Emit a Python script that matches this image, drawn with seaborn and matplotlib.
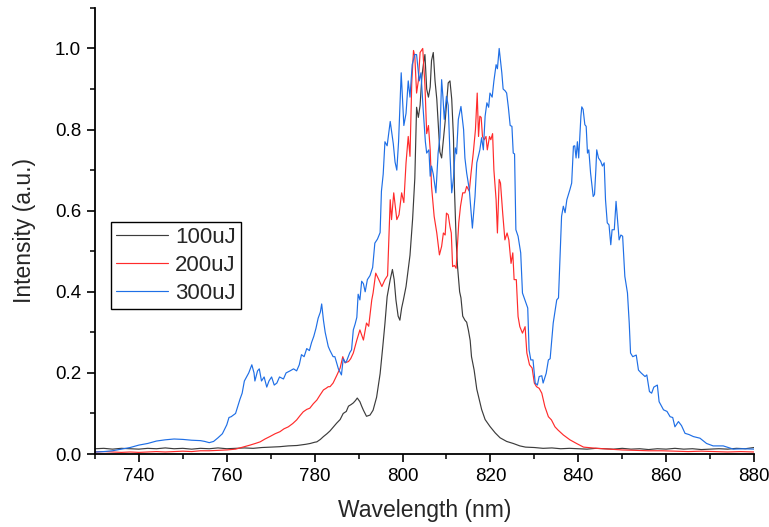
import numpy as np
import pandas as pd
import matplotlib
matplotlib.use("Agg")
import matplotlib.pyplot as plt
from matplotlib.ticker import MultipleLocator, FormatStrFormatter
import seaborn as sns

# ---------------- data ----------------
black_wl = [730, 732, 734, 736, 738, 740, 742, 744, 746, 748, 750, 752, 754, 756, 758, 760,
            762, 764, 766, 768, 770, 772, 774, 776, 778, 779, 780, 780.5, 781.3, 782, 782.8,
            783.5, 784.2, 785, 785.8, 786.5, 787.2, 787.7, 788.3, 788.8, 789.3, 789.7, 790.3,
            790.7, 791.1, 791.8, 792.6, 793.3, 794.1, 794.9, 795.5, 796, 796.5, 797.2, 797.7,
            798.1, 798.5, 799, 799.4, 799.8, 800.2, 800.8, 801.3, 801.7, 802.3, 802.8, 803.2,
            803.6, 804, 804.4, 804.8, 805.1, 805.5, 805.9, 806.3, 806.6, 807, 807.4, 807.8,
            808.1, 808.5, 808.9, 809.3, 809.7, 810, 810.4, 810.8, 811.2, 811.6, 811.8, 812.2,
            812.5, 813, 813.3, 813.7, 814.2, 814.6, 815, 815.4, 815.7, 816.3, 816.9, 817.5,
            818, 818.8, 819.9, 821.1, 822.2, 823.7, 825.2, 826.7, 828, 830, 832, 834, 836,
            838, 840, 842, 844, 846, 848, 850, 852, 854, 856, 858, 860, 862, 864, 866, 868,
            870, 872, 874, 876, 878, 880]
black_int = [0.013, 0.014, 0.012, 0.014, 0.013, 0.012, 0.014, 0.013, 0.015, 0.013, 0.014, 0.012,
             0.014, 0.013, 0.015, 0.013, 0.014, 0.015, 0.014, 0.016, 0.017, 0.018, 0.020, 0.021,
             0.024, 0.026, 0.029, 0.030, 0.036, 0.043, 0.050, 0.057, 0.066, 0.076, 0.085, 0.100,
             0.105, 0.118, 0.122, 0.126, 0.132, 0.138, 0.129, 0.118, 0.108, 0.093, 0.096, 0.108,
             0.140, 0.198, 0.264, 0.322, 0.388, 0.430, 0.455, 0.430, 0.380, 0.340, 0.330, 0.360,
             0.380, 0.413, 0.455, 0.490, 0.580, 0.680, 0.855, 0.830, 0.860, 0.930, 0.965, 0.985,
             0.900, 0.880, 0.905, 0.970, 0.990, 0.920, 0.875, 0.820, 0.745, 0.730, 0.775, 0.820,
             0.860, 0.915, 0.920, 0.875, 0.780, 0.660, 0.530, 0.465, 0.400, 0.385, 0.340, 0.330,
             0.325, 0.305, 0.280, 0.240, 0.207, 0.160, 0.133, 0.110, 0.085, 0.068, 0.052, 0.040,
             0.031, 0.026, 0.020, 0.017, 0.016, 0.014, 0.015, 0.013, 0.014, 0.013, 0.012, 0.014,
             0.013, 0.012, 0.014, 0.012, 0.013, 0.011, 0.013, 0.012, 0.014, 0.012, 0.013, 0.011,
             0.012, 0.013, 0.012, 0.014, 0.013, 0.016]

red_wl = [730, 732, 734, 736, 738, 740, 742, 744, 746, 748, 750, 752, 754, 756, 758, 760, 762,
          764, 765.3, 766.5, 767.6, 768.7, 769.8, 771, 772.1, 773, 774, 775, 775.9, 776.7,
          777.4, 778.2, 778.9, 779.7, 780.5, 781.2, 782, 782.6, 783.1, 783.5, 784.2, 785,
          785.8, 786.4, 786.9, 787.7, 788.2, 788.8, 789.6, 790.3, 791.1, 791.8, 792.3, 793,
          793.3, 793.9, 794.6, 795.3, 796, 796.6, 797.2, 797.5, 798, 798.7, 799.2, 799.8,
          800.3, 800.8, 801.3, 801.7, 802.1, 802.5, 802.8, 803.2, 803.6, 804, 804.6, 805.1,
          805.5, 805.9, 806.3, 806.6, 807.2, 807.8, 808.4, 808.9, 809.3, 809.7, 810, 810.4,
          810.8, 811.1, 811.4, 811.8, 812.2, 812.5, 812.8, 813.2, 813.7, 814.2, 814.6, 815.2,
          815.6, 816.1, 816.6, 817, 817.3, 817.6, 817.9, 818.2, 818.6, 819, 819.3, 819.8,
          820.1, 820.5, 820.8, 821.3, 821.6, 822, 822.3, 822.8, 823.3, 823.8, 824.2, 824.7,
          825.1, 825.4, 825.9, 826.3, 826.7, 827.3, 827.9, 828.3, 828.9, 829.5, 830, 830.5,
          831.1, 831.7, 832.4, 833.2, 833.9, 834.7, 835.4, 836.6, 838.1, 839.6, 841.2, 844.2,
          847.2, 850, 853, 856, 859, 862, 865, 868, 871, 874, 877, 880]
red_int = [0.005, 0.006, 0.005, 0.004, 0.005, 0.004, 0.005, 0.006, 0.005, 0.006, 0.007, 0.006,
           0.008, 0.008, 0.009, 0.010, 0.012, 0.018, 0.022, 0.026, 0.030, 0.037, 0.043, 0.050,
           0.055, 0.062, 0.067, 0.075, 0.084, 0.095, 0.104, 0.110, 0.113, 0.124, 0.133, 0.145,
           0.158, 0.162, 0.166, 0.166, 0.175, 0.193, 0.212, 0.240, 0.225, 0.228, 0.235, 0.249,
           0.281, 0.306, 0.281, 0.323, 0.315, 0.380, 0.397, 0.446, 0.430, 0.413, 0.430, 0.440,
           0.627, 0.578, 0.644, 0.578, 0.590, 0.644, 0.620, 0.718, 0.783, 0.734, 0.915, 0.995,
           0.980, 0.890, 0.920, 0.990, 1.000, 0.910, 0.790, 0.810, 0.750, 0.660, 0.586, 0.545,
           0.491, 0.512, 0.545, 0.540, 0.594, 0.590, 0.561, 0.545, 0.462, 0.465, 0.458, 0.512,
           0.570, 0.611, 0.644, 0.644, 0.660, 0.648, 0.693, 0.742, 0.800, 0.890, 0.783, 0.833,
           0.830, 0.783, 0.775, 0.783, 0.750, 0.783, 0.775, 0.790, 0.700, 0.627, 0.545, 0.677,
           0.668, 0.594, 0.528, 0.545, 0.528, 0.470, 0.496, 0.430, 0.430, 0.339, 0.314, 0.298,
           0.314, 0.249, 0.220, 0.212, 0.175, 0.166, 0.162, 0.150, 0.117, 0.092, 0.084, 0.067,
           0.059, 0.047, 0.035, 0.026, 0.017, 0.014, 0.012, 0.010, 0.009, 0.008, 0.008, 0.007,
           0.006, 0.007, 0.006, 0.005, 0.006, 0.005]

blue_wl = [730, 732, 734, 736, 738, 740, 742, 744, 746, 748, 750, 752, 754, 755, 756, 757, 758,
           759, 760, 760.5, 761, 762, 763, 763.5, 764, 764.5, 765, 765.7, 766.2, 766.4, 767,
           767.4, 767.9, 768.5, 769.1, 769.6, 770.2, 770.8, 771.4, 772, 772.9, 773.5, 774.4,
           775.2, 775.9, 776.5, 777, 777.6, 778.2, 778.8, 779.3, 779.8, 780.3, 780.8, 781.3,
           781.6, 782, 782.4, 783.1, 783.5, 784.2, 784.6, 785.4, 786.1, 786.5, 787, 787.3,
           788, 788.4, 788.8, 789.2, 789.6, 789.9, 790.3, 790.7, 791.1, 791.5, 792, 792.6,
           793.2, 793.7, 794.3, 794.9, 795.2, 795.6, 796, 796.5, 797.2, 797.9, 798.3, 798.7,
           799.1, 799.7, 800.3, 800.8, 801.3, 801.7, 802.2, 802.8, 803.2, 803.8, 804.2, 804.7,
           805.2, 805.5, 806, 806.3, 806.6, 807, 807.6, 808.1, 808.5, 808.9, 809.2, 809.5,
           810, 810.4, 810.8, 811.2, 811.6, 812, 812.3, 812.7, 813.3, 813.9, 814.2, 814.6,
           815.2, 815.7, 815.9, 816.5, 816.9, 817.6, 818, 818.4, 818.8, 819.2, 819.6, 819.9,
           820.4, 820.8, 821.3, 821.6, 822, 822.6, 822.9, 823.4, 823.7, 824.1, 824.5, 824.9,
           825.2, 825.5, 825.8, 826.3, 826.9, 827.3, 828.1, 828.5, 828.8, 829.2, 829.7, 830.2,
           830.7, 831.1, 831.7, 832, 832.7, 833.2, 833.6, 834.3, 835.1, 835.5, 835.9, 836.2,
           836.6, 837, 837.4, 838.1, 838.5, 838.9, 839.2, 839.5, 839.8, 840.1, 840.6, 840.8,
           841.1, 841.5, 841.8, 842.1, 842.4, 842.8, 843.4, 843.7, 844, 844.2, 844.6, 845.1,
           845.5, 845.9, 846.2, 846.6, 847, 847.4, 847.7, 848.2, 848.6, 849, 849.3, 849.7,
           850.1, 850.6, 851.2, 851.6, 851.9, 852.4, 853.2, 853.7, 854.3, 855.2, 855.6, 856.2,
           856.7, 857.2, 858, 858.4, 859.4, 860.2, 860.9, 861.5, 862, 862.8, 863.5, 864.3,
           865.2, 866.2, 867.7, 869.2, 870.7, 873, 875.3, 877.5, 880]
blue_int = [0.005, 0.006, 0.008, 0.012, 0.016, 0.022, 0.026, 0.032, 0.035, 0.037, 0.036, 0.034,
            0.033, 0.031, 0.028, 0.031, 0.040, 0.050, 0.072, 0.090, 0.092, 0.100, 0.135, 0.150,
            0.180, 0.190, 0.200, 0.220, 0.200, 0.180, 0.205, 0.210, 0.180, 0.190, 0.165, 0.180,
            0.190, 0.170, 0.175, 0.190, 0.185, 0.200, 0.205, 0.210, 0.205, 0.220, 0.245, 0.240,
            0.260, 0.255, 0.275, 0.290, 0.310, 0.335, 0.350, 0.370, 0.330, 0.300, 0.265, 0.255,
            0.240, 0.240, 0.210, 0.195, 0.235, 0.225, 0.230, 0.250, 0.257, 0.306, 0.320, 0.337,
            0.394, 0.380, 0.426, 0.420, 0.400, 0.430, 0.440, 0.460, 0.520, 0.530, 0.546, 0.648,
            0.690, 0.770, 0.760, 0.820, 0.765, 0.720, 0.700, 0.770, 0.940, 0.810, 0.840, 0.920,
            0.880, 0.960, 0.985, 0.985, 0.920, 0.940, 0.850, 0.770, 0.742, 0.750, 0.685, 0.710,
            0.690, 0.644, 0.742, 0.780, 0.923, 0.880, 0.825, 0.882, 0.860, 0.740, 0.644, 0.680,
            0.755, 0.740, 0.825, 0.857, 0.800, 0.730, 0.693, 0.652, 0.586, 0.557, 0.635, 0.718,
            0.750, 0.780, 0.750, 0.833, 0.866, 0.855, 0.890, 0.880, 0.920, 0.960, 0.950, 1.000,
            0.940, 0.900, 0.895, 0.890, 0.854, 0.810, 0.808, 0.742, 0.740, 0.553, 0.537, 0.496,
            0.397, 0.372, 0.360, 0.257, 0.232, 0.232, 0.175, 0.170, 0.191, 0.193, 0.175, 0.199,
            0.232, 0.235, 0.323, 0.380, 0.385, 0.496, 0.586, 0.611, 0.595, 0.627, 0.652, 0.668,
            0.759, 0.760, 0.730, 0.770, 0.730, 0.833, 0.856, 0.850, 0.812, 0.808, 0.742, 0.750,
            0.693, 0.635, 0.640, 0.700, 0.750, 0.730, 0.722, 0.710, 0.718, 0.627, 0.570, 0.565,
            0.516, 0.553, 0.553, 0.623, 0.570, 0.528, 0.540, 0.537, 0.438, 0.397, 0.323, 0.249,
            0.240, 0.244, 0.207, 0.200, 0.191, 0.195, 0.154, 0.150, 0.165, 0.170, 0.129, 0.109,
            0.105, 0.092, 0.090, 0.067, 0.080, 0.070, 0.051, 0.048, 0.043, 0.039, 0.026, 0.020,
            0.020, 0.012, 0.013, 0.012]

series_labels = ["100uJ", "200uJ", "300uJ"]
series_colors = ["#3c3c3c", "#ff2b2b", "#1f6fe6"]

x_ticks = [740, 760, 780, 800, 820, 840, 860, 880]
y_ticks = [0.0, 0.2, 0.4, 0.6, 0.8, 1.0]

# ---------------- plotting ----------------
sns.set_style("ticks")
plt.rcParams["font.family"] = ["Liberation Sans", "DejaVu Sans"]

fig = plt.figure(figsize=(7.69, 5.27), dpi=100)
ax = fig.add_axes([0.1235, 0.1385, 0.857, 0.8465])

for wl, inten, lab, col in zip([black_wl, red_wl, blue_wl],
                               [black_int, red_int, blue_int],
                               series_labels, series_colors):
    df = pd.DataFrame({"Wavelength": wl, "Intensity": inten})
    sns.lineplot(data=df, x="Wavelength", y="Intensity", ax=ax, color=col,
                 linewidth=0.85, label=lab, estimator=None)

ax.set_xlim(730, 880)
ax.set_ylim(0, 1.1)
ax.set_xticks(x_ticks)
ax.set_yticks(y_ticks)
ax.xaxis.set_minor_locator(MultipleLocator(10))
ax.yaxis.set_minor_locator(MultipleLocator(0.1))
ax.yaxis.set_major_formatter(FormatStrFormatter("%.1f"))

for side in ["top", "right"]:
    ax.spines[side].set_visible(False)
for side in ["left", "bottom"]:
    ax.spines[side].set_linewidth(1.3)
    ax.spines[side].set_color("black")

ax.tick_params(which="major", direction="out", length=5.5, width=1.2,
               labelsize=13.5, colors="black", pad=4.5)
ax.tick_params(which="minor", direction="out", length=3.3, width=1.1, colors="black")

ax.set_xlabel("Wavelength (nm)", fontsize=16.5, labelpad=10.5)
ax.set_ylabel("Intensity (a.u.)", fontsize=16.5, labelpad=13.5)

leg = ax.legend(loc="upper left", bbox_to_anchor=(0.0243, 0.52), borderaxespad=0,
                fontsize=16, frameon=True, fancybox=False, handlelength=2.35,
                handletextpad=0.32, labelspacing=0.32, borderpad=0.22)
leg.get_frame().set_edgecolor("black")
leg.get_frame().set_linewidth(1.0)
leg.get_frame().set_alpha(1)

fig.savefig("out.png", dpi=100)
